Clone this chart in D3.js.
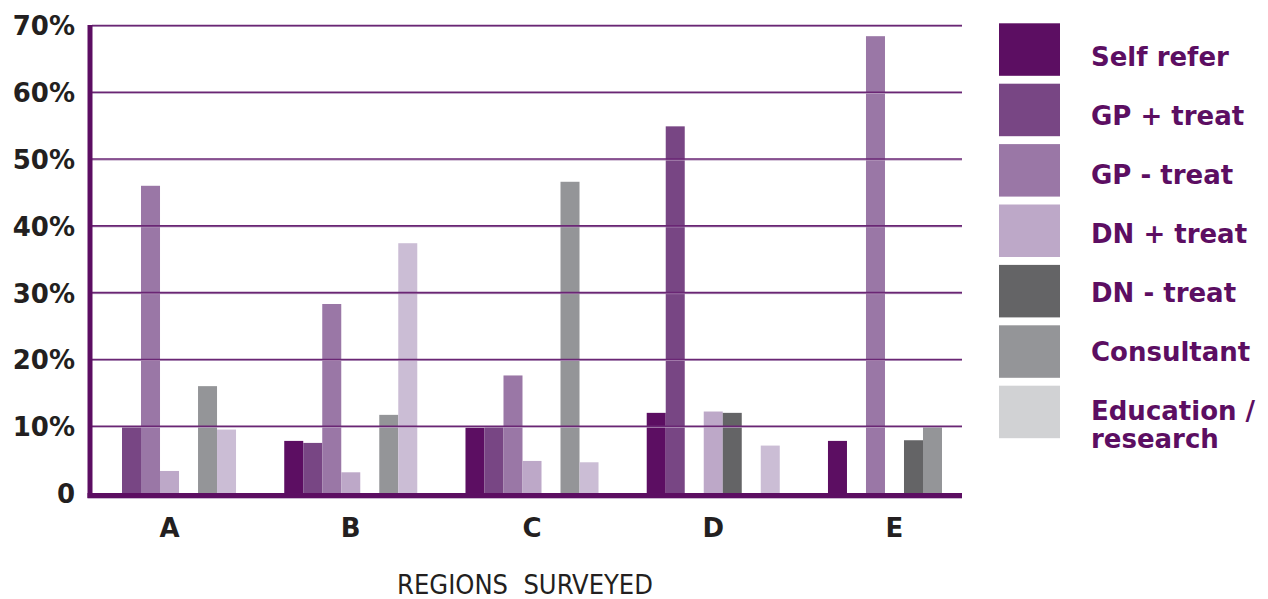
<!DOCTYPE html>
<html>
<head>
<meta charset="utf-8">
<script src="https://cdn.jsdelivr.net/npm/d3@7"></script>
<style>
  html, body { margin: 0; padding: 0; background: #ffffff; }
  svg { display: block; }
  text { font-family: "DejaVu Sans", "Liberation Sans", sans-serif; }
</style>
</head>
<body>
<svg id="chart" width="1268" height="599"></svg>
<script>
// Regions on the x axis
const regions = ["A", "B", "C", "D", "E"];

// Referral routes (one bar per route in every region)
const seriesNames = ["Self refer", "GP + treat", "GP - treat", "DN + treat", "DN - treat", "Consultant", "Education / research"];

// Percentage of referrals per route, listed by region A..E
const selfRefer  = [0, 7.8, 9.8, 12, 7.8];
const gpTreat    = [10, 7.5, 10, 54.9, 0];
const gpNoTreat  = [46, 28.3, 17.6, 0, 68.4];
const dnTreat    = [3.3, 3.1, 4.8, 12.2, 0];
const dnNoTreat  = [0, 0, 0, 12, 7.9];
const consultant = [16, 11.7, 46.6, 0, 10];
const education  = [9.5, 37.4, 4.6, 7.1, 0];

// Y axis ticks
const yTicks = [0, 10, 20, 30, 40, 50, 60, 70];

// Legend labels (the last one wraps onto two lines)
const legendLines = [["Self refer"], ["GP + treat"], ["GP - treat"], ["DN + treat"], ["DN - treat"], ["Consultant"], ["Education /", "research"]];

const seriesValues = [selfRefer, gpTreat, gpNoTreat, dnTreat, dnNoTreat, consultant, education];

const barColors    = ["#5c0e62", "#784684", "#9a77a6", "#bda8c8", "#646466", "#949598", "#cbbdd5"];
const legendColors = ["#5c0e62", "#784684", "#9a77a6", "#bda8c8", "#646466", "#949598", "#d1d2d4"];

const purple = "#5c0e62";
const ink = "#231f20";

const svg = d3.select("#chart");

// Scales
const x0 = d3.scaleBand().domain(regions).range([103, 961]).paddingInner(0.266).paddingOuter(0);
const x1 = d3.scaleBand().domain(seriesNames).range([0, x0.bandwidth()]);
const y = d3.scaleLinear().domain([0, 70]).range([493, 25.5]);

const plotLeft = 92, plotRight = 962;

// Bars, grouped by region
const rows = regions.map((r, i) => ({
  region: r,
  values: seriesNames.map((s, j) => ({ series: s, value: seriesValues[j][i], color: barColors[j] }))
}));

const groups = svg.append("g").selectAll("g")
  .data(rows)
  .join("g")
  .attr("transform", d => `translate(${x0(d.region)},0)`);

groups.selectAll("rect")
  .data(d => d.values.filter(v => v.value > 0))
  .join("rect")
  .attr("x", d => x1(d.series))
  .attr("width", x1.bandwidth())
  .attr("y", d => y(d.value))
  .attr("height", d => y(0) - y(d.value))
  .attr("fill", d => d.color);

// Horizontal gridlines, drawn over the bars
const grid = svg.append("g").selectAll("g")
  .data(yTicks.filter(t => t > 0))
  .join("g");
grid.append("line")
  .attr("x1", plotLeft)
  .attr("x2", plotRight)
  .attr("y1", d => y(d) + 1)
  .attr("y2", d => y(d) + 1)
  .attr("stroke", "#b89cc0")
  .attr("stroke-width", 1);
grid.append("line")
  .attr("x1", plotLeft)
  .attr("x2", plotRight)
  .attr("y1", d => y(d))
  .attr("y2", d => y(d))
  .attr("stroke", "#6a2674")
  .attr("stroke-width", 1.6);

// Y axis labels
const yAxis = d3.axisLeft(y)
  .tickValues(yTicks)
  .tickSize(0)
  .tickPadding(15)
  .tickFormat(d => d === 0 ? "0" : d + "%");

const yAxisG = svg.append("g")
  .attr("transform", `translate(90,0)`)
  .call(yAxis);
yAxisG.select(".domain").remove();
yAxisG.selectAll("text")
  .attr("font-family", "DejaVu Sans, sans-serif")
  .attr("font-size", 26)
  .attr("font-weight", "bold")
  .attr("fill", ink)
  .attr("dy", "0.36em");

// Axis lines
svg.append("line")
  .attr("x1", 90).attr("x2", 90)
  .attr("y1", y(70) - 0.5).attr("y2", 498)
  .attr("stroke", purple).attr("stroke-width", 5);

svg.append("line")
  .attr("x1", 87.5).attr("x2", plotRight)
  .attr("y1", 498.5).attr("y2", 498.5)
  .attr("stroke", "#c9b6cf").attr("stroke-width", 1);

svg.append("line")
  .attr("x1", 87.5).attr("x2", plotRight)
  .attr("y1", 495.5).attr("y2", 495.5)
  .attr("stroke", purple).attr("stroke-width", 5);

// Region labels
const xAxis = d3.axisBottom(x0).tickSize(0).tickPadding(0);
const xAxisG = svg.append("g")
  .attr("transform", `translate(0,495)`)
  .call(xAxis);
xAxisG.select(".domain").remove();
xAxisG.selectAll("text")
  .attr("y", 42)
  .attr("dy", 0)
  .attr("font-family", "DejaVu Sans, sans-serif")
  .attr("font-size", 26)
  .attr("font-weight", "bold")
  .attr("fill", ink);

// X axis title
svg.append("text")
  .attr("x", 525)
  .attr("y", 594)
  .attr("text-anchor", "middle")
  .attr("font-size", 27)
  .attr("font-stretch", "condensed")
  .style("font-family", "'DejaVu Sans Condensed', 'DejaVu Sans', sans-serif")
  .style("white-space", "pre")
  .attr("fill", ink)
  .text("REGIONS  SURVEYED");

// Legend
const legend = svg.append("g");
legend.selectAll("rect")
  .data(seriesNames)
  .join("rect")
  .attr("x", 999)
  .attr("y", (d, i) => 23.3 + i * 60.4)
  .attr("width", 61)
  .attr("height", 52.5)
  .attr("fill", (d, i) => legendColors[i]);

legend.selectAll("text")
  .data(legendLines)
  .join("text")
  .attr("x", 1091)
  .attr("y", (d, i) => 65.7 + i * 59)
  .attr("font-size", 26)
  .attr("font-weight", "bold")
  .attr("fill", purple)
  .each(function(lines) {
    d3.select(this).selectAll("tspan")
      .data(lines)
      .join("tspan")
      .attr("x", 1091)
      .attr("dy", (d, k) => k === 0 ? 0 : 28)
      .text(d => d);
  });
</script>
</body>
</html>
